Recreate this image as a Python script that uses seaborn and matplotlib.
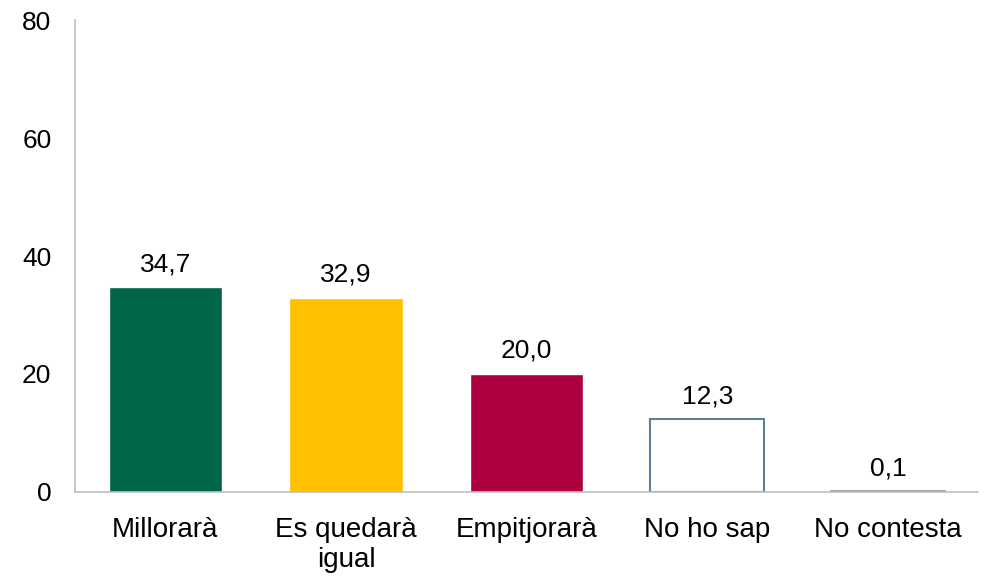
import matplotlib
matplotlib.use('Agg')
import matplotlib.pyplot as plt
import seaborn as sns
import pandas as pd

# ── Dades ──────────────────────────────────────────────────────────────────
categories = ["Millorarà", "Es quedarà\nigual", "Empitjorarà", "No ho sap", "No contesta"]
values     = [34.7, 32.9, 20.0, 12.3, 0.1]
colors     = ["#006647", "#FFC000", "#AE0040", "#FFFFFF", "#A6A6A6"]
yticks     = [0, 20, 40, 60, 80]

df = pd.DataFrame({"cat": categories, "val": values})

sns.set_style("white")
plt.rcParams['font.family'] = ['Liberation Sans', 'DejaVu Sans']
plt.rcParams['text.color'] = 'black'

FS = 19

fig = plt.figure(figsize=(9.88, 5.78), dpi=100)
ax = fig.add_axes([0.076, 0.149, 0.914, 0.816])

sns.barplot(data=df, x="cat", y="val", hue="cat", palette=colors,
            legend=False, width=0.63, ax=ax, saturation=1)

for i, (bar, val) in enumerate(zip(ax.patches, values)):
    if categories[i] == "No ho sap":
        bar.set_edgecolor("#5F7F96")
        bar.set_linewidth(1.5)
    if categories[i] == "No contesta":
        bar.set_edgecolor("#A6A6A6")
        bar.set_linewidth(1.5)
    ax.text(bar.get_x() + bar.get_width()/2, val + 1.9,
            f"{val:.1f}".replace(".", ","), ha='center', va='bottom',
            fontsize=FS, color='black')

ax.set_ylim(0, 80)
ax.set_yticks(yticks)
ax.set_xlabel("")
ax.set_ylabel("")
ax.tick_params(axis='both', labelsize=FS, length=0, labelcolor='black')
ax.tick_params(axis='x', labelsize=20, pad=18)
ax.tick_params(axis='y', pad=17)
for s in ['top', 'right']:
    ax.spines[s].set_visible(False)
for s in ['left', 'bottom']:
    ax.spines[s].set_color("#BFBFBF")
    ax.spines[s].set_linewidth(1.2)

plt.savefig('out.png', dpi=100)
plt.close()
